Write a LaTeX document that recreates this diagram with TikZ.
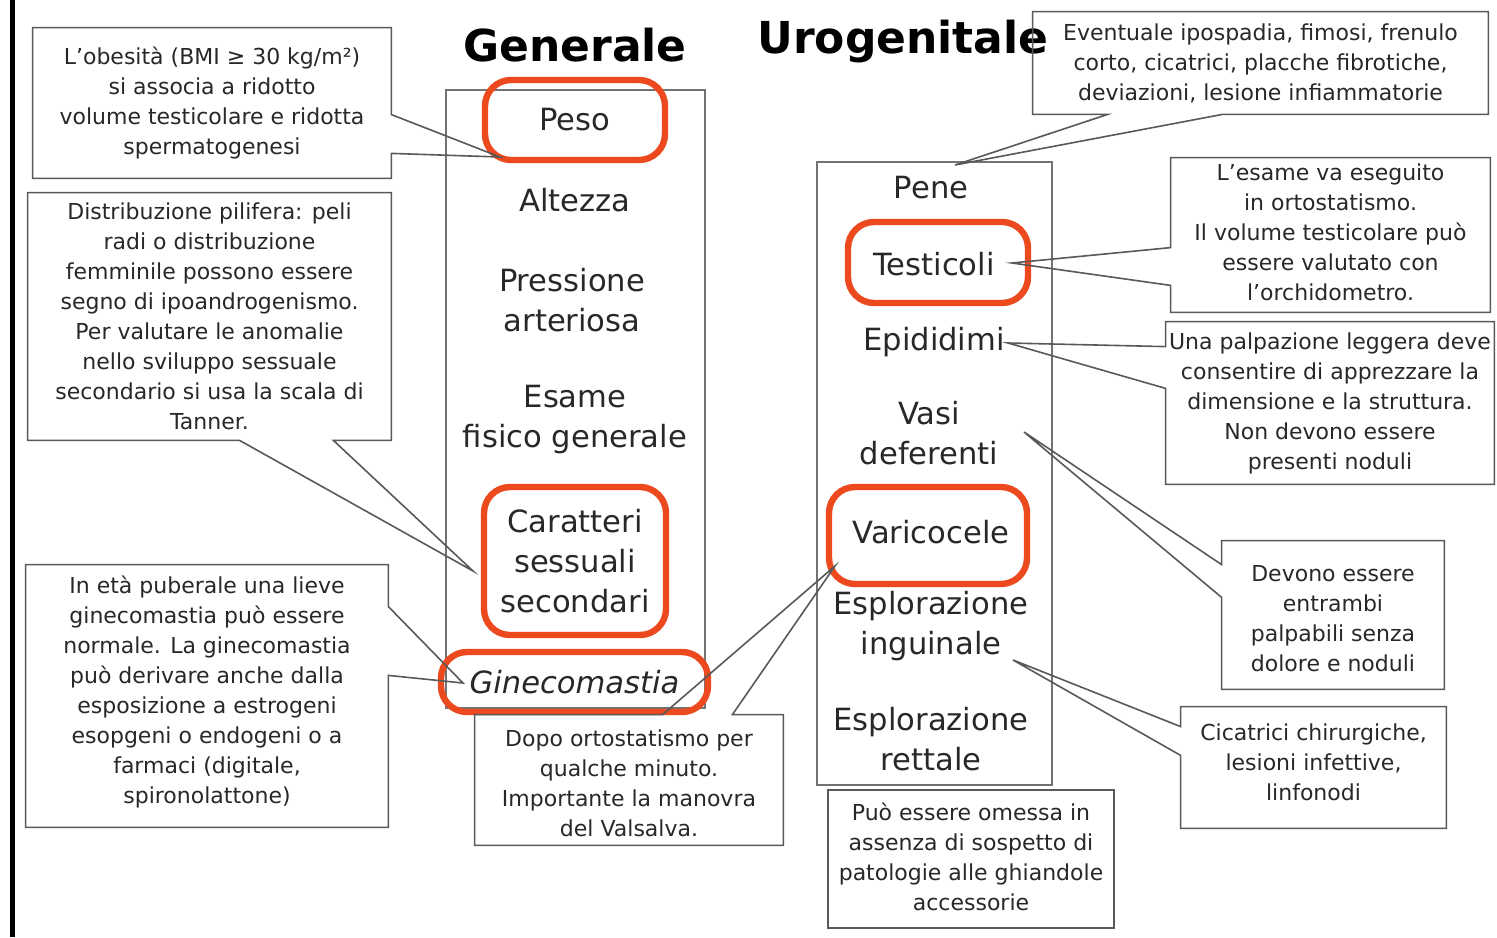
\documentclass[tikz,border=0pt]{standalone}
\usepackage{fontspec}
\setmainfont{DejaVu Sans}
\usetikzlibrary{fit,calc}
\definecolor{hl}{RGB}{236,74,30}
\definecolor{ink}{RGB}{40,40,40}
\begin{document}
\begin{tikzpicture}[x=0.5pt,y=-0.5pt,
  ctext/.style={inner sep=0pt, align=center, text=ink, font=\fontsize{11}{15}\selectfont},
  item/.style={inner sep=0pt, align=center, text=ink, font=\fontsize{15.3}{20}\selectfont},
  cline/.style={draw=black!65, line width=0.8pt, line join=miter},
  colbox/.style={draw=black!55, line width=0.7pt},
  frame/.style={inner sep=0pt},
  redbox/.style={draw=hl, line width=3.2pt, rounded corners=13pt, inner sep=0pt},
  ttl/.style={inner sep=0pt, font=\fontsize{22}{26}\bfseries\selectfont}]
\useasboundingbox (0,0) rectangle (1497,937);
\fill[white] (0,0) rectangle (1497,937);
\draw[black, line width=2.5pt] (12.5,0) -- (12.5,937);

% titles
\node[ttl] (tgen) at (575,45) {Generale};
\node[ttl] (turo) at (903,42) {Urogenitale};

% column boxes
\node[colbox, inner sep=0pt, fit={(446,90)(705,708)}] (gen) {};
\node[colbox, inner sep=0pt, fit={(817,162)(1052,785)}] (uro) {};

% general items
\node[redbox, fit={(485,80)(665,160)}] (pesob) {};
\node[item] (peso) at (pesob) {Peso};
\node[item] (alt) at (575,200) {Altezza};
\node[item] (pres) at (572,300) {Pressione\\arteriosa};
\node[item] (esame) at (575,420) {Esame\\fisico generale};
\node[redbox, fit={(484,487)(666,635)}] (carb) {};
\node[item] (car) at (carb) {Caratteri\\sessuali\\secondari};
\node[redbox, fit={(441,652)(708,712)}] (ginb) {};
\node[item, font=\fontsize{15.3}{20}\itshape\selectfont] (gin) at (ginb) {Ginecomastia};

% urogenital items
\node[item] (pene) at (931,188) {Pene};
\node[redbox, fit={(848,222)(1028,303)}] (testb) {};
\node[item] (test) at ($(testb)+(-4,2)$) {Testicoli};
\node[item] (epid) at (934,342) {Epididimi};
\node[item] (vasi) at (929,433) {Vasi\\deferenti};
\node[redbox, fit={(829,487)(1027,584)}] (varib) {};
\node[item] (vari) at ($(varib)+(3,-3)$) {Varicocele};
\node[item] (espi) at (931,626) {Esplorazione\\inguinale};
\node[item] (espr) at (931,739) {Esplorazione\\rettale};

% tips
\coordinate (t1) at (500,157);
\coordinate (t2) at (473,571);
\coordinate (t3) at (463,683);
\coordinate (t4) at (835,566);
\coordinate (t5) at (955,165);
\coordinate (t6) at (1012,263);
\coordinate (t7) at (1008,343);
\coordinate (t8) at (1024,432);
\coordinate (t9) at (1013,660);

% callouts
\node[frame, fit={(33,28)(391,178)}] (ob) {};
\node[ctext] (obt) at (ob) {L'obesità (BMI ≥ 30 kg/m²)\\si associa a ridotto\\volume testicolare e ridotta\\spermatogenesi};
\draw[cline] (ob.north west) -- (ob.north east) -- ($(ob.north east)+(0,87)$) -- (t1)
  -- ($(ob.south east)+(0,-25)$) -- (ob.south east) -- (ob.south west) -- cycle;

\node[frame, fit={(28,193)(391,440)}] (dist) {};
\node[ctext] (distt) at (dist) {Distribuzione pilifera: peli\\radi o distribuzione\\femminile possono essere\\segno di ipoandrogenismo.\\Per valutare le anomalie\\nello sviluppo sessuale\\secondario si usa la scala di\\Tanner.};
\draw[cline] (dist.north west) -- (dist.north east) -- (dist.south east) -- ($(dist.south east)+(-58,0)$)
  -- (t2) -- ($(dist.south west)+(212,0)$) -- (dist.south west) -- cycle;

\node[frame, fit={(26,565)(388,827)}] (eta) {};
\node[ctext] (etat) at ($(eta)+(0,-4)$) {In età puberale una lieve\\ginecomastia può essere\\normale. La ginecomastia\\può derivare anche dalla\\esposizione a estrogeni\\esopgeni o endogeni o a\\farmaci (digitale,\\spironolattone)};
\draw[cline] (eta.north west) -- (eta.north east) -- ($(eta.north east)+(0,42)$) -- (t3)
  -- ($(eta.south east)+(0,-152)$) -- (eta.south east) -- (eta.south west) -- cycle;

\node[frame, fit={(475,715)(783,845)}] (dopo) {};
\node[ctext] (dopot) at ($(dopo)+(0,3)$) {Dopo ortostatismo per\\qualche minuto.\\Importante la manovra\\del Valsalva.};
\draw[cline] (dopo.north west) -- ($(dopo.north west)+(188,0)$) -- (t4) -- ($(dopo.north east)+(-51,0)$)
  -- (dopo.north east) -- (dopo.south east) -- (dopo.south west) -- cycle;

\node[frame, fit={(1033,12)(1488,114)}] (ev) {};
\node[ctext] (evt) at (ev) {Eventuale ipospadia, fimosi, frenulo\\corto, cicatrici, placche fibrotiche,\\deviazioni, lesione infiammatorie};
\draw[cline] (ev.north west) -- (ev.north east) -- (ev.south east) -- ($(ev.south east)+(-266,0)$)
  -- (t5) -- ($(ev.south west)+(75,0)$) -- (ev.south west) -- cycle;

\node[frame, fit={(1171,158)(1490,312)}] (tc) {};
\node[ctext] (tct) at ($(tc)+(0,-3)$) {L'esame va eseguito\\in ortostatismo.\\Il volume testicolare può\\essere valutato con\\l'orchidometro.};
\draw[cline] (tc.north west) -- (tc.north east) -- (tc.south east) -- (tc.south west)
  -- ($(tc.south west)+(0,-27)$) -- (t6) -- ($(tc.north west)+(0,90)$) -- cycle;

\node[frame, fit={(1166,322)(1494,484)}] (ep) {};
\node[ctext] (ept) at (ep) {Una palpazione leggera deve\\consentire di apprezzare la\\dimensione e la struttura.\\Non devono essere\\presenti noduli};
\draw[cline] (ep.north west) -- (ep.north east) -- (ep.south east) -- (ep.south west)
  -- ($(ep.south west)+(0,-96)$) -- (t7) -- ($(ep.north west)+(0,25)$) -- cycle;

\node[frame, fit={(1222,541)(1444,689)}] (dv) {};
\node[ctext] (dvt) at ($(dv)+(0,4)$) {Devono essere\\entrambi\\palpabili senza\\dolore e noduli};
\draw[cline] (dv.north west) -- (dv.north east) -- (dv.south east) -- (dv.south west)
  -- ($(dv.south west)+(0,-92)$) -- (t8) -- ($(dv.north west)+(0,24)$) -- cycle;

\node[frame, fit={(1181,707)(1446,828)}] (ci) {};
\node[ctext] (cit) at ($(ci)+(0,-5)$) {Cicatrici chirurgiche,\\lesioni infettive,\\linfonodi};
\draw[cline] (ci.north west) -- (ci.north east) -- (ci.south east) -- (ci.south west)
  -- ($(ci.south west)+(0,-73)$) -- (t9) -- ($(ci.north west)+(0,20)$) -- cycle;

\node[frame, cline, fit={(828,790)(1114,928)}] (pu) {};
\node[ctext] (put) at ($(pu)+(0,-2)$) {Può essere omessa in\\assenza di sospetto di\\patologie alle ghiandole\\accessorie};
\end{tikzpicture}
\end{document}
